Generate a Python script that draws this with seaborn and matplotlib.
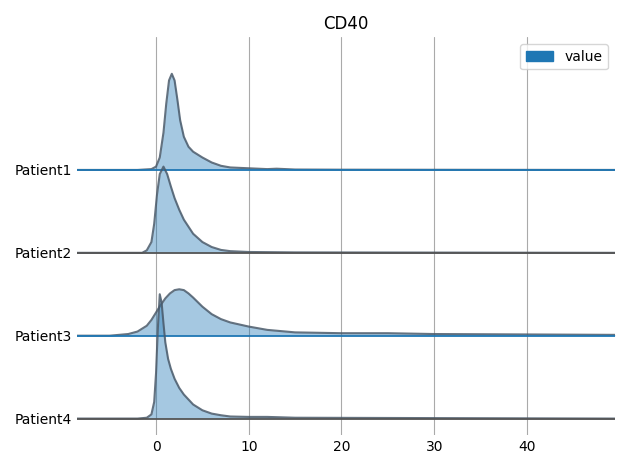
import numpy as np
import matplotlib
matplotlib.use("Agg")
import matplotlib.pyplot as plt
import matplotlib.patches as mpatches
import seaborn as sns

sns.set_style("white")
plt.rcParams.update({"text.color": "black", "xtick.color": "black",
                     "ytick.color": "black", "axes.labelcolor": "black"})

patients = ["Patient1", "Patient2", "Patient3", "Patient4"]

# density curves (x value, height relative to row spacing)
p1_x = [-8.5, -2, -0.5, 0, 0.4, 0.8, 1.1, 1.4, 1.7, 2.0, 2.3, 2.6, 3, 3.5, 4, 5, 6, 7, 8, 10, 12, 13, 15, 20, 49.5]
p1_y = [0, 0, 0.01, 0.04, 0.15, 0.45, 0.8, 1.08, 1.16, 1.08, 0.85, 0.6, 0.4, 0.28, 0.22, 0.15, 0.09, 0.05, 0.03, 0.02, 0.01, 0.015, 0.005, 0.003, 0]
p2_x = [-8.5, -1.5, -1, -0.5, -0.2, 0.1, 0.4, 0.8, 1.2, 1.6, 2, 2.5, 3, 4, 5, 6, 7, 8, 10, 15, 49.5]
p2_y = [0, 0, 0.03, 0.13, 0.35, 0.7, 0.95, 1.04, 0.95, 0.8, 0.66, 0.52, 0.4, 0.23, 0.13, 0.07, 0.035, 0.02, 0.01, 0.005, 0]
p3_x = [-8.5, -5, -3, -2, -1, -0.5, 0, 0.5, 1, 1.5, 2, 2.5, 3, 3.5, 4, 5, 6, 7, 8, 10, 12, 15, 20, 25, 30, 40, 49.5]
p3_y = [0, 0, 0.02, 0.05, 0.12, 0.19, 0.28, 0.37, 0.45, 0.51, 0.55, 0.56, 0.55, 0.51, 0.46, 0.35, 0.26, 0.2, 0.16, 0.11, 0.07, 0.04, 0.03, 0.03, 0.02, 0.015, 0.01]
p4_x = [-8.5, -2, -1, -0.5, -0.2, 0, 0.2, 0.4, 0.6, 0.8, 1, 1.3, 1.6, 2, 2.5, 3, 4, 5, 6, 7, 8, 10, 12, 15, 49.5]
p4_y = [0, 0, 0.01, 0.05, 0.2, 0.55, 1.1, 1.5, 1.4, 1.15, 0.92, 0.72, 0.6, 0.48, 0.37, 0.29, 0.17, 0.1, 0.06, 0.04, 0.025, 0.02, 0.02, 0.01, 0]

curves = [(p1_x, p1_y), (p2_x, p2_y), (p3_x, p3_y), (p4_x, p4_y)]
offsets = [3, 2, 1, 0]

fig, ax = plt.subplots(figsize=(6.3, 4.69), dpi=100)
for i, ((xs, ys), off) in enumerate(zip(curves, offsets)):
    xs = np.array(xs)
    ys = np.array(ys) + off
    ax.fill_between(xs, off, ys, color="#1f77b4", alpha=0.4, lw=0, zorder=2 + i)
    ax.plot(xs, ys, color="#4a5a6a", lw=1.5, alpha=0.85, zorder=2 + i)
    ax.axhline(off, color="#1f77b4" if i in (0, 2) else "#555555", lw=1.3, zorder=2 + i)

ax.set_xlim(-8.5, 49.5)
ax.set_ylim(-0.2, 4.6)
ax.set_yticks(offsets)
ax.set_yticklabels(patients)
ax.set_xticks([0, 10, 20, 30, 40])
ax.tick_params(axis="both", length=0, labelsize=10)
ax.grid(axis="x", color="#aaaaaa", lw=0.8, zorder=0)
ax.set_axisbelow(True)
for s in ax.spines.values():
    s.set_visible(False)
ax.set_title("CD40")
ax.legend(handles=[mpatches.Patch(color="#1f77b4", label="value")], loc="upper right")
fig.tight_layout()
fig.savefig("out.png")
